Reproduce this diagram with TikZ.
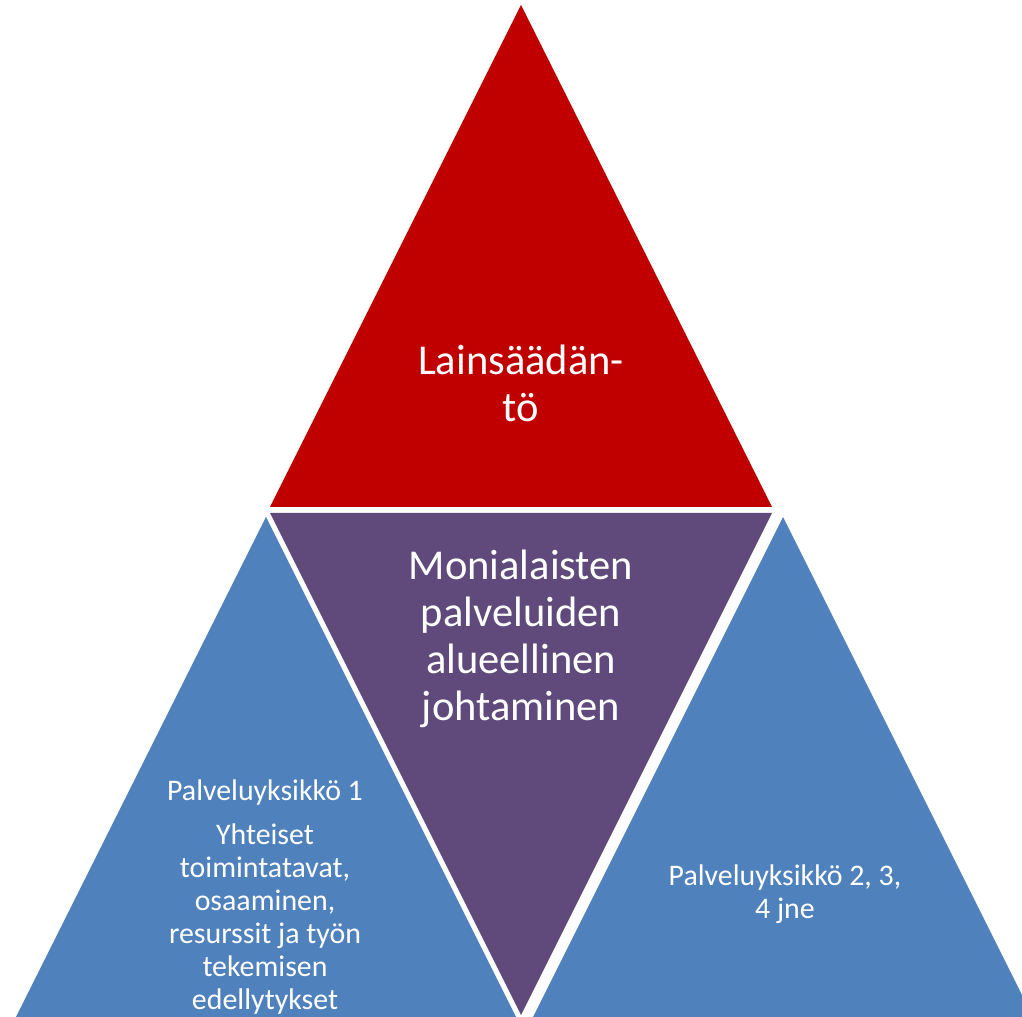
\documentclass[tikz,border=0pt]{standalone}
\usepackage{fontspec}
\setmainfont{Carlito}
\usepackage{xcolor}
\definecolor{lawred}{HTML}{C00000}
\definecolor{leadpurple}{HTML}{604A7B}
\definecolor{unitblue}{HTML}{4F81BD}

\begin{document}
\begin{tikzpicture}[
    bigtext/.style = {text = white, align = center, font = \fontsize{12.1}{13.4}\selectfont},
    smalltext/.style = {text = white, align = center, font = \fontsize{8.5}{9.4}\selectfont}]
        \useasboundingbox (0, 0) rectangle (10.22, 10.17);
        \clip (0, 0) rectangle (10.22, 10.17);

        \fill[lawred] (5.21, 10.12) -- (2.70, 5.10) -- (7.72, 5.10) -- cycle;
        \fill[leadpurple] (2.70, 5.04) -- (7.72, 5.04) -- (5.21, 0.02) -- cycle;
        \fill[unitblue] (2.66, 5.00) -- (0.16, 0) -- (5.16, 0) -- cycle;
        \fill[unitblue] (7.83, 5.00) -- (5.33, 0) -- (10.33, 0) -- cycle;

        \node[bigtext] (law) at (5.21, 6.34) {Lainsäädän-\\tö};
        \node[bigtext] (lead) at (5.21, 3.78) {Monialaisten\\palveluiden\\alueellinen\\johtaminen};
        \node[smalltext] (unit1) at (2.65, 1.20) {Palveluyksikkö 1\\[3pt]Yhteiset\\toimintatavat,\\osaaminen,\\resurssit ja työn\\tekemisen\\edellytykset};
        \node[smalltext] (unit2) at (7.85, 1.23) {Palveluyksikkö 2, 3,\\4 jne};
    \end{tikzpicture}
\end{document}
